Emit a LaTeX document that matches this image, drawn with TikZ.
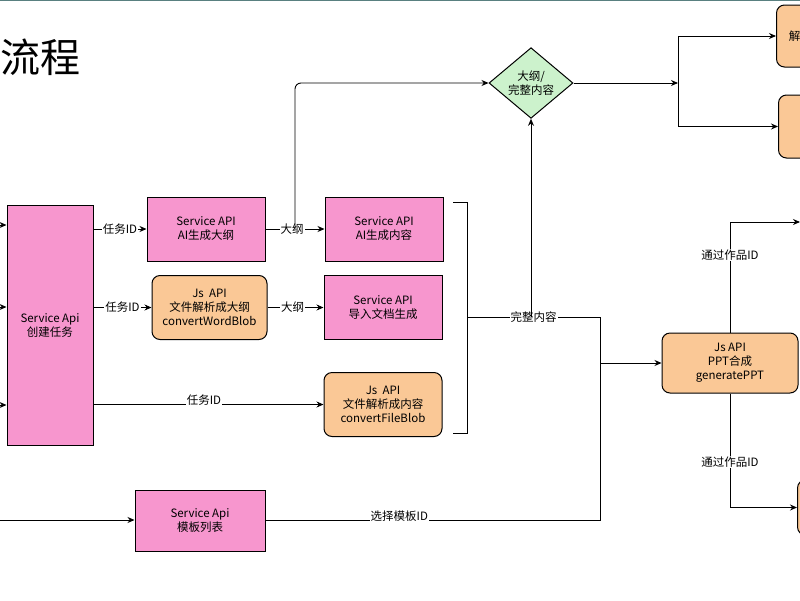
\documentclass[tikz,border=0pt]{standalone}
\usepackage{fontspec}
\setmainfont{Noto Sans CJK SC}
\usetikzlibrary{shapes.geometric,arrows.meta,calc}
\definecolor{pinkbox}{RGB}{247,150,206}
\definecolor{orangebox}{RGB}{250,200,150}
\definecolor{greenbox}{RGB}{204,242,204}
\begin{document}
\begin{tikzpicture}[x=1pt,y=-1pt,
	svc/.style={draw,fill=pinkbox,line width=1pt,minimum width=118pt,minimum height=64pt,align=center,font=\fontsize{11.5}{14}\selectfont},
	js/.style={svc,fill=orangebox,rounded corners=8pt},
	flow/.style={-{Stealth[length=7pt,width=6pt]},line width=0.9pt},
	lbl/.style={fill=white,inner sep=1pt,font=\fontsize{11.5}{14}\selectfont}]
	\useasboundingbox (0,0) rectangle (800,600);
	\draw[gray!70!teal,line width=1pt] (0,0.5) -- (800,0.5);
	
	% Title
	\node (title) [anchor=west,inner sep=0pt,font=\fontsize{40}{44}\selectfont] at (0,57) {流程};
	
	%Shapes: boxes
	\node (create) [svc,minimum width=86pt,minimum height=240pt] at (50,325) {Service Api\\创建任务};
	\node (outline) [svc] at (206,229) {Service API\\AI生成大纲};
	\node (wordblob) [js,minimum width=115pt] at (209.5,307.5) {Js\ \ API\\文件解析成大纲\\convertWordBlob};
	\node (content) [svc] at (384,229) {Service API\\AI生成内容};
	\node (importdoc) [svc] at (383,307.5) {Service API\\导入文档生成};
	\node (fileblob) [js] at (383,404.5) {Js\ \ API\\文件解析成内容\\convertFileBlob};
	\node (tpl) [svc,minimum width=130pt,minimum height=61pt] at (200,520.5) {Service Api\\模板列表};
	\node (decide) [diamond,draw,fill=greenbox,line width=1pt,aspect=1,minimum width=84pt,align=center,inner sep=0pt,font=\fontsize{11.5}{14}\selectfont] at (531,83) {大纲/\\完整内容};
	\node (gen) [js,minimum width=136pt,minimum height=60pt] at (730,363) {Js API\\PPT合成\\generatePPT};
	\node (parse) [js,anchor=west,minimum width=60pt,minimum height=62pt] at (776,36) {\hspace*{-24pt}解};
	\node (rtop) [js,anchor=west,minimum width=60pt,minimum height=63pt] at (778,126.5) {};
	\node (rbot) [js,anchor=west,minimum width=60pt,minimum height=55pt] at (797,507.5) {};
	
	% free ends
	\coordinate (in1) at (0,225);
	\coordinate (in2) at (0,307);
	\coordinate (in3) at (0,405);
	\coordinate (in4) at (0,520);
	\coordinate (rtopin) at (800,222);
	\coordinate (bracket) at (467,317);
	\coordinate (joint) at (600,363);
	\coordinate (fork) at (678,83);
	\coordinate (branch) at ($(outline.east)!0.5!(content.west)$);
	
	%Connectors
	\draw[flow] (in1) -- (create.west |- in1);
	\draw[flow] (in2) -- (create.west |- in2);
	\draw[flow] (in3) -- (create.west |- in3);
	\draw[flow] (in4) -- (tpl.west |- in4);
	\draw[flow] (create.east |- outline) -- node[lbl] {任务ID} (outline);
	\draw[flow] (create.east |- wordblob) -- node[lbl] {任务ID} (wordblob);
	\draw[flow] (create.east |- fileblob) -- node[lbl,pos=0.48,yshift=4pt] {任务ID} (fileblob);
	\draw[flow] (outline) -- node[lbl,pos=0.45] {大纲} (content);
	\draw[flow] (wordblob) -- node[lbl,pos=0.45] {大纲} (importdoc);
	\draw[flow,rounded corners=6pt] (branch) -- (branch |- decide) -- (decide.west);
	\draw[line width=0.9pt] (453,202) -- (467,202) -- (467,433) -- (453,433);
	\draw[line width=0.9pt] (bracket) -- node[lbl,pos=0.5] {完整内容} (joint |- bracket) -- (joint);
	\draw[flow] (decide.south |- bracket) -- (decide.south);
	\draw[flow] (tpl) -- node[lbl,pos=0.4,yshift=4pt] {选择模板ID} (joint |- tpl) -- (joint) -- (gen);
	\draw[flow] (decide) -- (fork);
	\draw[flow] (fork) -- (fork |- parse) -- (parse);
	\draw[flow] (fork) -- (fork |- rtop) -- (rtop);
	\draw[flow] (gen) -- node[lbl,pos=0.7] {通过作品ID} (gen.north |- rtopin) -- (rtopin);
	\draw[flow] (gen) -- node[lbl,pos=0.6] {通过作品ID} (gen.south |- rbot) -- (rbot);
\end{tikzpicture}
\end{document}
